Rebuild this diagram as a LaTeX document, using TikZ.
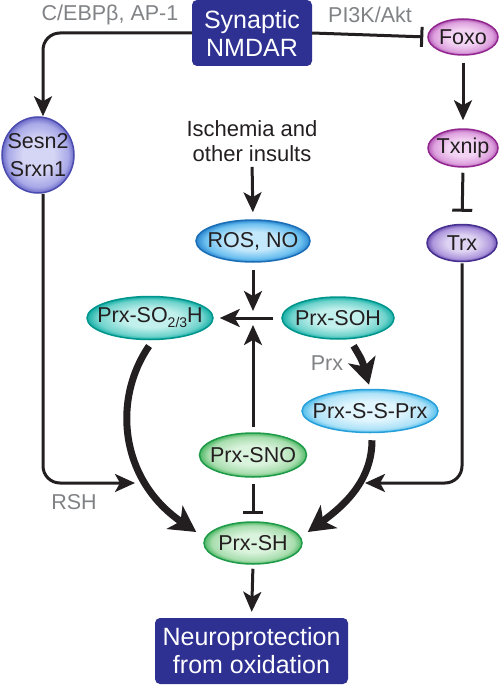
\documentclass[tikz,border=0pt]{standalone}
\usepackage{fontspec}
\setmainfont{Liberation Sans}
\usetikzlibrary{arrows.meta,shapes.geometric,calc}
\definecolor{ink}{HTML}{231F20}
\definecolor{lblgray}{HTML}{808285}
\definecolor{boxblue}{HTML}{2E3192}
\newcommand\mkshade[5]{%
  \definecolor{#1In}{HTML}{#2}\definecolor{#1Mid}{HTML}{#3}%
  \definecolor{#1Out}{HTML}{#4}\definecolor{#1Edge}{HTML}{#5}%
  \pgfdeclareradialshading{sh#1}{\pgfpoint{0bp}{0bp}}{color(0bp)=(#1In); color(11bp)=(#1In); color(21bp)=(#1Mid); color(25bp)=(#1Out); color(50bp)=(#1Out)}}
\mkshade{Lav}{D5D5F5}{A9A9E8}{6B6BC8}{4B4BB0}
\mkshade{Mag}{F3D3F3}{DDA0DE}{B45CB6}{92278F}
\mkshade{Pur}{DED3F2}{AE97DC}{6E52B4}{46308F}
\mkshade{Blu}{C4E8FB}{6CC0F0}{2B86CF}{1B6DB5}
\mkshade{Tea}{C2F0EC}{6FD3CC}{16AFA6}{00958C}
\mkshade{Lbl}{E0F5FD}{AEE2F8}{52BDEB}{27A0DA}
\mkshade{Grn}{DAF3DC}{A8DDAE}{4DB865}{1E9A48}
\begin{document}
\begin{tikzpicture}[x=1pt,y=-1pt,
  txt/.style={font=\fontsize{22}{25}\selectfont, text=ink, inner sep=0pt, align=center},
  graylbl/.style={font=\fontsize{21.5}{25}\selectfont, text=lblgray, inner sep=0pt},
  bluebox/.style={rectangle, rounded corners=5pt, fill=boxblue, text=white, font=\fontsize{25}{28}\selectfont, align=center, inner sep=0pt},
  ell/.style={ellipse, shade, shading=sh#1, draw=#1Edge, line width=1.5pt, inner sep=0pt},
  etext/.style={font=\fontsize{21.5}{28}\selectfont, text=ink, inner sep=0pt, align=center},
  arr/.style={draw=ink, line width=3pt, -{Stealth[length=20pt,width=18pt,inset=5pt]}},
  thickarr/.style={draw=ink, line width=7pt, -{Stealth[length=26pt,width=28pt,inset=7pt]}},
  inh/.style={draw=ink, line width=3pt, -{Bar[width=20pt,line width=3pt]}},
]
\useasboundingbox (0,0) rectangle (498,685);
% boxes
\node[bluebox, minimum width=120pt, minimum height=66pt] (nmdar) at (252,33) {Synaptic\\NMDAR};
\node[bluebox, minimum width=193pt, minimum height=66pt] (neuro) at (251.5,651) {Neuroprotection\\from oxidation};
% ellipses
\node[ell=Lav, minimum width=72pt, minimum height=76pt, label={[etext, name=sesnT]center:{Sesn2\\Srxn1}}] (sesn) at (38,155) {};
\node[ell=Mag, minimum width=70pt, minimum height=36pt, label={[etext, name=foxoT]center:{Foxo}}] (foxo) at (463,37) {};
\node[ell=Mag, minimum width=70pt, minimum height=38pt, label={[etext, name=txnipT]center:{Txnip}}] (txnip) at (463,148) {};
\node[ell=Pur, minimum width=70pt, minimum height=37pt, label={[etext, name=trxT]center:{Trx}}] (trx) at (462,243) {};
\node[txt] (isch) at (252,141) {Ischemia and\\other insults};
\node[ell=Blu, minimum width=114pt, minimum height=42pt, label={[etext, name=rosT]center:{ROS, NO}}] (ros) at (253,241) {};
\node[ell=Tea, minimum width=126pt, minimum height=43pt, label={[etext, name=soT]center:{Prx-SO\raisebox{-5pt}{\fontsize{14}{14}\selectfont 2/3}H}}] (so) at (150,318) {};
\node[ell=Tea, minimum width=112pt, minimum height=42pt, label={[etext, name=sohT]center:{Prx-SOH}}] (soh) at (338,318) {};
\node[ell=Lbl, minimum width=136pt, minimum height=43pt, label={[etext, name=sspT]center:{Prx-S-S-Prx}}] (ssp) at (370,411) {};
\node[ell=Grn, minimum width=107pt, minimum height=44pt, label={[etext, name=snoT]center:{Prx-SNO}}] (sno) at (253,455) {};
\node[ell=Grn, minimum width=98pt, minimum height=42pt, label={[etext, name=shT]center:{Prx-SH}}] (sh) at (253,543) {};
% gray labels
\node[graylbl] (cebp) at (110,15) {C/EBP\symbol{"03B2}, AP-1};
\node[graylbl] (pik) at (370,15) {PI3K/Akt};
\node[graylbl] (prxl) at (327,363) {Prx};
\node[graylbl] (rshl) at (74,502) {RSH};
% coordinates
\coordinate (jtop) at (253,311);
\coordinate (jbot) at (253,325);
\coordinate (rshtip) at (135,483);
\coordinate (trxtip) at (365,483);
% connectors
\draw[arr, rounded corners=17pt] (nmdar.west) -| ($(sesn.north)+(5,0)$);
\draw[inh, shorten >=4pt] (nmdar.east) -- (foxo.west);
\draw[arr, shorten <=7pt, shorten >=8pt] (foxo.south) -- (txnip.north);
\draw[inh, shorten <=5pt, shorten >=12pt] (txnip.south) -- (trx.north);
\draw[arr, rounded corners=17pt] ($(sesn.south)+(5,0)$) |- (rshtip);
\draw[arr, rounded corners=17pt, shorten <=1pt] (trx.south) |- (trxtip);
\draw[arr, shorten <=5pt, shorten >=7pt] (isch.south) -- (ros.north);
\draw[arr, shorten <=7pt] (ros.south) -- (jtop);
\draw[arr, shorten <=8pt, shorten >=6pt] (soh.west) -- (so.east);
\draw[arr, shorten <=5pt] (sno.north) -- (jbot);
\draw[inh, shorten <=6pt, shorten >=7pt] (sno.south) -- (sh.north);
\draw[arr, shorten <=4pt, shorten >=6pt] (sh.south) -- (neuro.north);
\draw[thickarr, shorten <=7pt] ($(so.south)+(3,0)$) .. controls (112,400) and (120,480) .. ($(sh.west)+(-7,-11)$);
\draw[thickarr, shorten <=7pt] ($(ssp.south)+(2,0)$) .. controls (372,480) and (345,505) .. ($(sh.east)+(5,-11)$);
\draw[thickarr, shorten <=7pt] ($(soh.south)+(12,0)$) .. controls (362,360) .. ($(ssp.north)+(-1,-4)$);
\end{tikzpicture}
\end{document}
